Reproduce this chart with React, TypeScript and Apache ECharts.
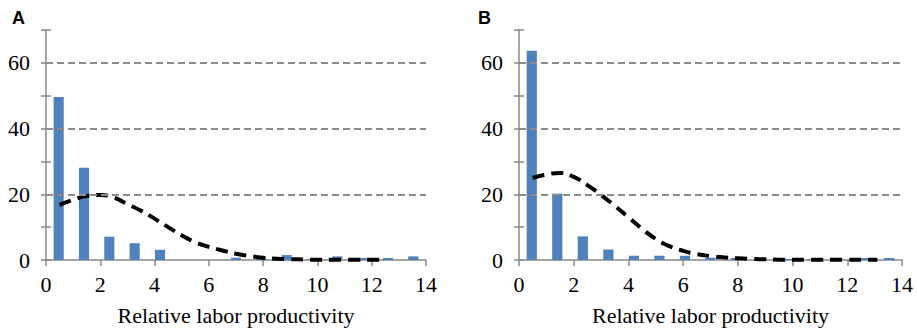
import React, { useEffect, useRef } from "react";
import * as echarts from "echarts";

const binLabels = ["0-1", "1-2", "2-3", "3-4", "4-5", "5-6", "6-7", "7-8", "8-9", "9-10", "10-11", "11-12", "12-13", "13-14", "14-15"];
const barsA = [49.6, 28.1, 7.1, 5.1, 3.1, 0, 0, 0.7, 0.4, 1.5, 0.3, 1.1, 0.6, 0.6, 1.1];
const barsB = [63.7, 20.2, 7.2, 3.2, 1.3, 1.3, 1.3, 0.7, 0.6, 0.4, 0.3, 0.3, 0.4, 0.6, 0.6];

const curveXA = [0.5, 1, 1.5, 2, 2.5, 3, 3.5, 4, 4.5, 5, 5.5, 6, 6.5, 7, 7.5, 8, 8.5, 9, 9.5, 10, 10.5, 11, 11.5, 12, 12.5];
const curveYA = [16.8, 18.3, 19.5, 19.8, 19.0, 17.0, 15.0, 12.6, 10.0, 7.5, 5.4, 4.0, 2.9, 1.9, 1.2, 0.7, 0.4, 0.25, 0.15, 0.1, 0.1, 0.1, 0.1, 0.1, 0.1];
const curveXB = [0.5, 1, 1.5, 2, 2.5, 3, 3.5, 4, 4.5, 5, 5.5, 6, 6.5, 7, 7.5, 8, 8.5, 9, 9.5, 10, 10.5, 11, 11.5, 12, 12.5, 13.1];
const curveYB = [25.0, 26.0, 26.5, 25.3, 22.8, 19.8, 16.5, 13.0, 9.5, 6.4, 4.2, 2.8, 1.8, 1.2, 0.8, 0.5, 0.3, 0.2, 0.1, 0.1, 0.1, 0.1, 0.1, 0.1, 0.1, 0.1];

const xTicks = { min: 0, max: 14, interval: 2 };
const yTicks = { min: 0, max: 70, interval: 10 };
const gridValues = [20, 40, 60];
const axisName = "Relative labor productivity";
const panelNames = ["A", "B"];

const AXIS_COLOR = "#888888";
const SERIF = "Liberation Serif";

export default function App() {
  const ref = useRef<HTMLDivElement>(null);
  useEffect(() => {
    document.body.style.margin = "0";
    const chart = echarts.init(ref.current!, null, { renderer: "svg" });
    const grids = [
      { left: 46, top: 30, width: 380, height: 230 },
      { left: 519, top: 30, width: 383, height: 230 },
    ];
    const xAxes: any[] = [];
    const yAxes: any[] = [];
    const series: any[] = [];
    const datasets = [
      { bars: barsA, cx: curveXA, cy: curveYA },
      { bars: barsB, cx: curveXB, cy: curveYB },
    ];
    datasets.forEach((d, gi) => {
      xAxes.push({
        type: "value",
        gridIndex: gi,
        min: xTicks.min,
        max: xTicks.max,
        interval: xTicks.interval,
        axisLine: { show: true, lineStyle: { color: AXIS_COLOR, width: 1.5 } },
        axisTick: { show: true, length: 6, lineStyle: { color: AXIS_COLOR, width: 1.5 } },
        axisLabel: { color: "#000", fontFamily: SERIF, fontSize: 22, margin: 13 },
        splitLine: { show: false },
        name: axisName,
        nameLocation: "middle",
        nameGap: 44,
        nameTextStyle: { color: "#000", fontFamily: SERIF, fontSize: 22 },
      });
      xAxes.push({
        type: "category",
        gridIndex: gi,
        data: binLabels,
        show: false,
        boundaryGap: true,
      });
      yAxes.push({
        type: "value",
        gridIndex: gi,
        min: yTicks.min,
        max: yTicks.max,
        interval: yTicks.interval,
        axisLine: { show: true, lineStyle: { color: AXIS_COLOR, width: 1.5 } },
        axisTick: { show: true, length: 5, lineStyle: { color: AXIS_COLOR, width: 1.5 } },
        axisLabel: {
          color: "#000",
          fontFamily: SERIF,
          fontSize: 22,
          margin: 16,
          formatter: (v: number) => (v % 20 === 0 ? String(v) : ""),
        },
        splitLine: { show: false },
      });
      yAxes.push({
        type: "value",
        gridIndex: gi,
        position: "left",
        min: yTicks.min,
        max: yTicks.max,
        interval: yTicks.interval,
        axisLine: { show: false },
        axisTick: { show: true, inside: true, length: 5, lineStyle: { color: AXIS_COLOR, width: 1.5 } },
        axisLabel: { show: false },
        splitLine: { show: false },
      });
      series.push({
        type: "bar",
        xAxisIndex: gi * 2 + 1,
        yAxisIndex: gi * 2,
        data: d.bars,
        barWidth: "40%",
        itemStyle: { color: "#4f81bd" },
        markLine: {
          silent: true,
          symbol: "none",
          label: { show: false },
          lineStyle: { color: "#8c8c8c", width: 2, type: [7, 4] },
          data: gridValues.map((v) => ({ yAxis: v })),
        },
        z: 2,
      });
      series.push({
        type: "line",
        xAxisIndex: gi * 2,
        yAxisIndex: gi * 2,
        data: d.cx.map((x, i) => [x, d.cy[i]]),
        smooth: true,
        showSymbol: false,
        lineStyle: { color: "#000", width: 4, type: [12, 7] },
        z: 3,
      });
    });
    chart.setOption({
      animation: false,
      grid: grids,
      xAxis: xAxes,
      yAxis: yAxes,
      series,
      graphic: [
        {
          type: "text",
          left: 12,
          top: 9,
          style: { text: panelNames[0], font: "bold 18px Liberation Sans", fill: "#000" },
        },
        {
          type: "text",
          left: 478,
          top: 9,
          style: { text: panelNames[1], font: "bold 18px Liberation Sans", fill: "#000" },
        },
      ],
    });
    return () => chart.dispose();
  }, []);
  return <div ref={ref} style={{ width: 917, height: 332 }} />;
}
